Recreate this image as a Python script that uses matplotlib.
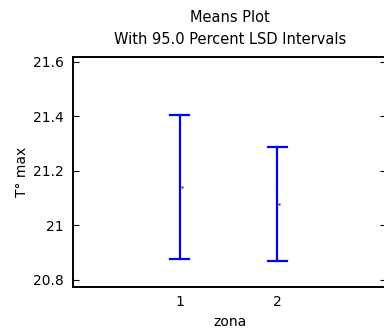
import matplotlib
matplotlib.use("Agg")
import matplotlib.pyplot as plt

plt.rcParams['font.family'] = ['DejaVu Sans']

# zone means with their 95% LSD interval limits
zonas = [1, 2]
means = [21.140, 21.078]
lower = [20.876, 20.869]
upper = [21.405, 21.287]

fig = plt.figure(figsize=(3.84, 3.28), dpi=100)
# axes frame runs slightly past the right edge of the canvas
ax = fig.add_axes([73 / 384, 1 - 287 / 328, 313 / 384, 230 / 328])

for z, m, lo, hi in zip(zonas, means, lower, upper):
    ax.plot([z, z], [lo, hi], color='#0000ff', lw=1.6)
    ax.plot([z - 0.1, z + 0.1], [lo, lo], color='#0000ff', lw=1.6)
    ax.plot([z - 0.1, z + 0.1], [hi, hi], color='#0000ff', lw=1.6)
    ax.plot([z + 0.02], [m], marker='s', ms=1.6, color='#a0004a', mec='none')

ax.set_xlim(-0.09, 3.11)
ax.set_ylim(20.774, 21.618)
ax.set_xticks(zonas)
ax.set_yticks([20.8, 21.0, 21.2, 21.4, 21.6])
ax.set_yticklabels(['20.8', '21', '21.2', '21.4', '21.6'])
ax.tick_params(axis='y', direction='in', length=4, width=0.8, right=True,
               labelsize=10, pad=6.5)
ax.tick_params(axis='x', length=0, labelsize=10, pad=6)
for s in ax.spines.values():
    s.set_linewidth(1.4)

ax.set_xlabel('zona', fontsize=10, labelpad=4)
ax.set_ylabel('T° max', fontsize=10)
ax.yaxis.set_label_coords(-0.14, 0.5)

fig.text(0.598, 1 - 18 / 328, 'Means Plot', ha='center', va='center', fontsize=10.5)
fig.text(0.598, 1 - 40 / 328, 'With 95.0 Percent LSD Intervals', ha='center',
         va='center', fontsize=10.5)

fig.savefig('out.png', dpi=100)
